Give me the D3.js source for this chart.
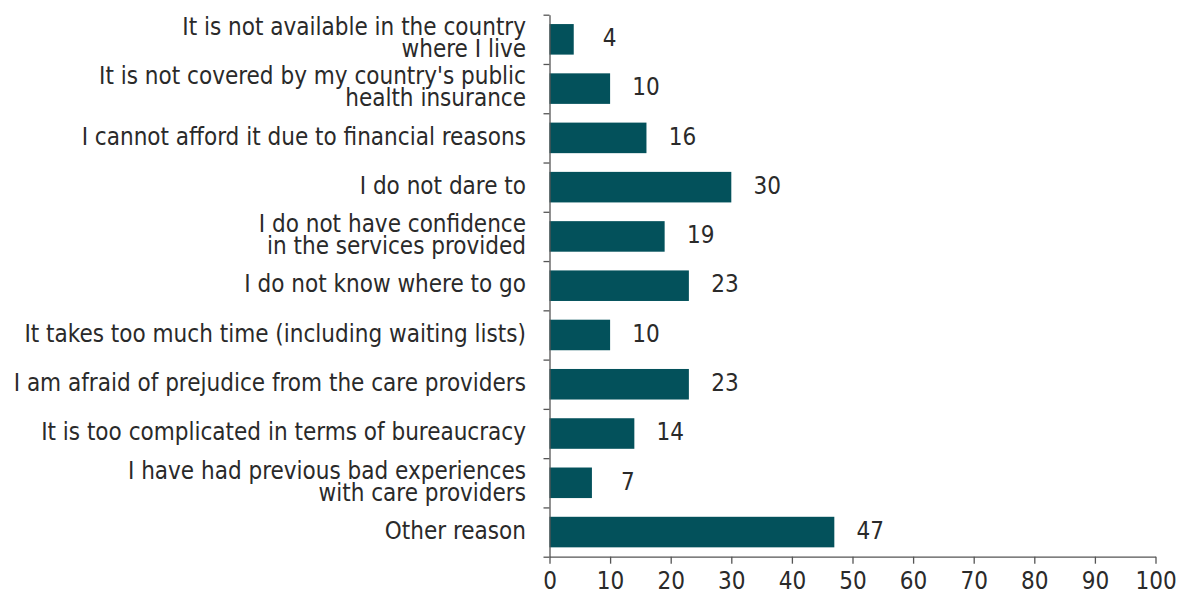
<!DOCTYPE html>
<html><head><meta charset="utf-8">
<script src="https://cdn.jsdelivr.net/npm/d3@7/dist/d3.min.js"></script>
<style>
body{margin:0;background:#fff;}
svg text{font-family:"DejaVu Sans Condensed","Liberation Sans Narrow",sans-serif;fill:#2a2a2a;}
</style></head>
<body><svg id="c" width="1178" height="604"></svg>
<script>
const categories = [
  ["It is not available in the country","where I live"],
  ["It is not covered by my country's public","health insurance"],
  ["I cannot afford it due to financial reasons"],
  ["I do not dare to"],
  ["I do not have confidence","in the services provided"],
  ["I do not know where to go"],
  ["It takes too much time (including waiting lists)"],
  ["I am afraid of prejudice from the care providers"],
  ["It is too complicated in terms of bureaucracy"],
  ["I have had previous bad experiences","with care providers"],
  ["Other reason"]
];
const values = [4, 10, 16, 30, 19, 23, 10, 23, 14, 7, 47];
const xTicks = [0,10,20,30,40,50,60,70,80,90,100];

const svg = d3.select("#c");
const fs = 24;
const x = d3.scaleLinear().domain([0,100]).range([549.5,1155.5]);
const y = d3.scaleBand().domain(d3.range(categories.length)).range([14.7,556.7]).paddingInner(0.38).paddingOuter(0.19);

// bars
svg.selectAll("rect.bar").data(values).join("rect")
  .attr("x", x(0)).attr("y",(d,i)=>y(i))
  .attr("width", d=>x(d)-x(0)).attr("height", y.bandwidth())
  .attr("fill","#03515b");

// value labels
svg.selectAll("text.val").data(values).join("text")
  .attr("text-anchor","middle")
  .attr("x", d=>x(d)+36).attr("y",(d,i)=>y(i)+y.bandwidth()/2)
  .attr("dy","0.28em").style("font-size",fs+"px").text(d=>d);

// x axis
const xa = svg.append("g").attr("transform","translate(0,556.7)")
  .call(d3.axisBottom(x).tickValues(xTicks).tickSize(7).tickPadding(8).tickSizeOuter(0));
xa.select(".domain").attr("stroke","#555").attr("stroke-width",1.3);
xa.selectAll(".tick line").attr("stroke","#555").attr("stroke-width",1.3);
xa.selectAll("text").style("font-size",fs+"px").attr("fill","#2a2a2a");

// y axis: line and boundary ticks
const yb = d3.scaleLinear().domain([0,categories.length]).range([14.7,556.7]);
const ya = svg.append("g").attr("transform","translate("+x(0)+",0)")
  .call(d3.axisLeft(yb).ticks(categories.length).tickSize(6).tickFormat("").tickSizeOuter(0));
ya.select(".domain").attr("stroke","#555").attr("stroke-width",1.3);
ya.selectAll(".tick line").attr("stroke","#555").attr("stroke-width",1.3);

// category labels
const lab = svg.selectAll("text.cat").data(categories).join("text")
  .attr("text-anchor","end").style("font-size",fs+"px")
  .attr("transform",(d,i)=>"translate(526,"+(y(i)+y.bandwidth()/2)+")");
lab.each(function(lines){
  const t=d3.select(this);
  const n=lines.length, lh=22;
  lines.forEach((s,k)=>{
    t.append("tspan").attr("x",0).attr("y",(k-(n-1)/2)*lh).attr("dy","0.28em").text(s);
  });
});
</script></body></html>
